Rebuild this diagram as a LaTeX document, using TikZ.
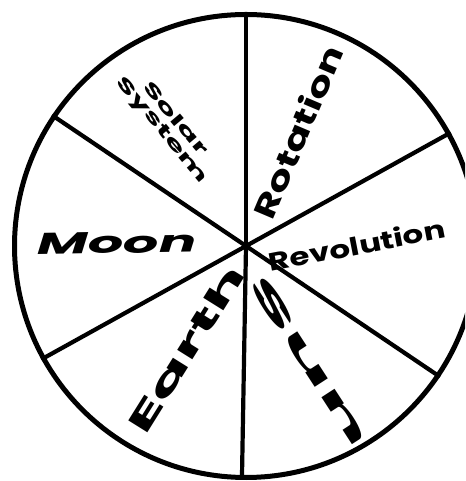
\documentclass[tikz,border=0pt]{standalone}
\usepackage{fontspec}
\setmainfont{Poppins}
\usepackage{tikz}
\usetikzlibrary{calc}
\tikzset{
  wheel/.style={draw,circle,line width=5pt,minimum size=463pt,inner sep=0pt},
  spoke/.style={line width=4.2pt},
  word/.style={font=\bfseries,inner sep=0pt,align=center},
}

\begin{document}
\begin{tikzpicture}[x=1pt,y=1pt]
  \useasboundingbox (0,0) rectangle (465,481);
  \clip (0,0) rectangle (465,481);
  %% Wheel
  \coordinate (hub) at (246,235);
  \node[wheel] (rim) at (hub) {};
  %% Spokes
  \foreach \a in {90,146,209,269,326,29}
    \draw[spoke] (hub) -- (rim.\a);
  %% Words
  \node[word,rotate=-50,xscale=2,font=\bfseries\fontsize{17}{17}\selectfont]
       (solar) at (168,356) {Solar\\System};
  \node[word,rotate=67,xscale=1.4,font=\bfseries\fontsize{30}{30}\selectfont]
       (rot)   at (298,349) {Rotation};
  \node[word,rotate=11,xscale=1.3,font=\bfseries\fontsize{25}{25}\selectfont]
       (rev)   at (357,236) {Revolution};
  \node[word,rotate=1,xscale=1.85,font=\bfseries\itshape\fontsize{30}{30}\selectfont]
       (moon)  at (117,238) {Moon};
  \node[word,rotate=58,xscale=2.2,font=\bfseries\fontsize{32}{32}\selectfont]
       (earth) at (186,132) {Earth};
  \node[word,rotate=-57,xscale=3.6,font=\bfseries\fontsize{28}{28}\selectfont]
       (sun)   at (310,120) {Sun};
\end{tikzpicture}
\end{document}
